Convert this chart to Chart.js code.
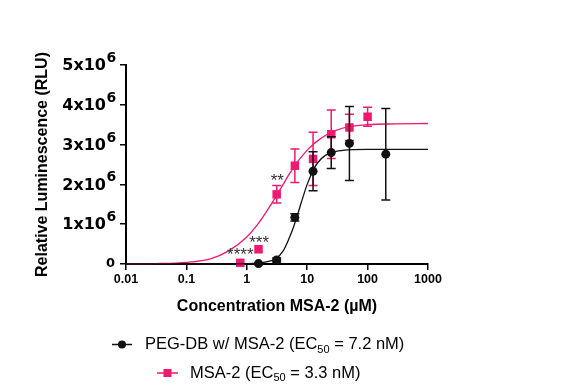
<!DOCTYPE html>
<html>
<head>
<meta charset="utf-8">
<script src="https://cdn.jsdelivr.net/npm/chart.js@4/dist/chart.umd.min.js"></script>
<style>
  html, body { margin: 0; padding: 0; background: #fff; }
</style>
</head>
<body>
<canvas id="chart" width="582" height="392"></canvas>
<script>
// measured points (concentration in µM, RLU)
const pegConc = [1.5625, 3.125, 6.25, 12.5, 25, 50, 200];
const pegMean = [0.01e6, 0.10e6, 1.17e6, 2.33e6, 2.80e6, 3.03e6, 2.76e6];
const pegErr  = [0.02e6, 0.05e6, 0.09e6, 0.49e6, 0.40e6, 0.93e6, 1.15e6];

const msaConc = [0.78, 1.5625, 3.125, 6.25, 12.5, 25, 50, 100];
const msaMean = [0.03e6, 0.37e6, 1.75e6, 2.47e6, 2.64e6, 3.26e6, 3.43e6, 3.70e6];
const msaErr  = [0, 0, 0.22e6, 0.42e6, 0.67e6, 0.61e6, 0.33e6, 0.24e6];

// fitted curves
const fitConc = [0.01, 0.03, 0.1, 0.25, 0.5, 1, 1.5, 2, 3, 4, 5, 6, 7, 8, 10, 12.5, 15, 20, 30, 50, 100, 300, 1000];
const pegFit = [0, 0, 0, 0, 0.001e6, 0.007e6, 0.022e6, 0.05e6, 0.13e6, 0.33e6, 0.64e6, 0.95e6, 1.26e6, 1.55e6,
                2.0e6, 2.35e6, 2.55e6, 2.73e6, 2.83e6, 2.87e6, 2.88e6, 2.88e6, 2.88e6];
const msaFit = [0.003e6, 0.01e6, 0.04e6, 0.13e6, 0.33e6, 0.68e6, 0.99e6, 1.26e6, 1.68e6, 2.0e6, 2.25e6, 2.43e6,
                2.58e6, 2.69e6, 2.86e6, 3.0e6, 3.1e6, 3.23e6, 3.36e6, 3.45e6, 3.50e6, 3.52e6, 3.53e6];

// significance marks
const sigText = ['****', '***', '**'];
const sigX = [0.78, 1.6, 3.2];
const sigY = [0.31e6, 0.62e6, 2.17e6];

// axes
const xTickValues = [0.01, 0.1, 1, 10, 100, 1000];
const xTickLabels = ['0.01', '0.1', '1', '10', '100', '1000'];
const yTickValues = [0, 1e6, 2e6, 3e6, 4e6, 5e6];
const yTickLabels = ['0', '1x10', '2x10', '3x10', '4x10', '5x10'];
const yTickExp    = ['', '6', '6', '6', '6', '6'];

// legend
const legendNames = ['PEG-DB w/ MSA-2', 'MSA-2'];
const legendEC50 = ['7.2', '3.3'];

const black = '#111111';
const pink = '#F0186F';

const pts = (xs, ys) => xs.map((x, i) => ({ x: x, y: ys[i] }));

const errorBars = {
  id: 'errorBars',
  beforeDatasetDraw(chart, args) {
    const ds = chart.data.datasets[args.index];
    if (!ds.errors) return;
    const xs = chart.scales.x, ys = chart.scales.y;
    const ctx = chart.ctx;
    ctx.save();
    ctx.strokeStyle = ds.borderColor;
    ctx.lineWidth = 1.5;
    ds.data.forEach((p, i) => {
      const e = ds.errors[i];
      if (!e) return;
      const px = xs.getPixelForValue(p.x);
      const top = ys.getPixelForValue(p.y + e);
      const bot = ys.getPixelForValue(p.y - e);
      ctx.beginPath();
      ctx.moveTo(px, top); ctx.lineTo(px, bot);
      ctx.moveTo(px - 4.5, top); ctx.lineTo(px + 4.5, top);
      ctx.moveTo(px - 4.5, bot); ctx.lineTo(px + 4.5, bot);
      ctx.stroke();
    });
    ctx.restore();
  }
};

const extras = {
  id: 'extras',
  afterDraw(chart) {
    const ctx = chart.ctx;
    const xs = chart.scales.x, ys = chart.scales.y;
    ctx.save();
    // y tick labels with exponent
    ctx.fillStyle = '#000';
    yTickValues.forEach((v, i) => {
      const py = ys.getPixelForValue(v);
      ctx.textBaseline = 'middle';
      if (!yTickExp[i]) {
        ctx.font = 'bold 13px "DejaVu Sans"';
        ctx.textAlign = 'right';
        ctx.fillText(yTickLabels[i], 115, py);
        return;
      }
      ctx.font = 'bold 16px "DejaVu Sans"';
      ctx.textAlign = 'right';
      ctx.fillText(yTickLabels[i], 106, py + 1);
      ctx.font = 'bold 14px "DejaVu Sans"';
      ctx.textAlign = 'left';
      ctx.textBaseline = 'alphabetic';
      ctx.fillText(yTickExp[i], 106.5, py - 3);
    });
    // significance stars
    ctx.font = '17px "Liberation Sans"';
    ctx.fillStyle = '#333';
    ctx.textAlign = 'center';
    ctx.textBaseline = 'middle';
    sigText.forEach((t, i) => {
      ctx.fillText(t, xs.getPixelForValue(sigX[i]), ys.getPixelForValue(sigY[i]) + 4);
    });
    // legend
    const rows = [
      { y: 344.5, x0: 112, x1: 132, text: 145, color: black, style: 'circle' },
      { y: 373, x0: 157, x1: 178, text: 190, color: pink, style: 'rect' }
    ];
    rows.forEach((r, i) => {
      ctx.strokeStyle = r.color;
      ctx.fillStyle = r.color;
      ctx.lineWidth = 1.5;
      ctx.beginPath();
      ctx.moveTo(r.x0, r.y); ctx.lineTo(r.x1, r.y);
      ctx.stroke();
      const cx = (r.x0 + r.x1) / 2;
      if (r.style === 'circle') {
        ctx.beginPath(); ctx.arc(cx, r.y, 4, 0, Math.PI * 2); ctx.fill();
      } else {
        ctx.fillRect(cx - 4, r.y - 4, 8, 8);
      }
      ctx.fillStyle = '#000';
      ctx.textAlign = 'left';
      ctx.textBaseline = 'middle';
      ctx.font = '16.5px "Liberation Sans"';
      let x = r.text;
      const a = legendNames[i] + ' (EC';
      ctx.fillText(a, x, r.y);
      x += ctx.measureText(a).width;
      ctx.font = '11px "Liberation Sans"';
      ctx.fillText('50', x, r.y + 5);
      x += ctx.measureText('50').width;
      ctx.font = '16.5px "Liberation Sans"';
      ctx.fillText(' = ' + legendEC50[i] + ' nM)', x, r.y);
    });
    ctx.restore();
  }
};

new Chart(document.getElementById('chart'), {
  type: 'scatter',
  data: {
    datasets: [
      {
        label: 'PEG-DB w/ MSA-2',
        data: pts(pegConc, pegMean),
        errors: pegErr,
        backgroundColor: black,
        borderColor: black,
        pointStyle: 'circle',
        pointRadius: 4.5,
        pointBorderWidth: 0,
        showLine: false,
        clip: false,
        order: 1
      },
      {
        label: 'PEG-DB fit',
        data: pts(fitConc, pegFit),
        borderColor: black,
        borderWidth: 1.3,
        pointRadius: 0,
        showLine: true,
        cubicInterpolationMode: 'monotone',
        clip: false,
        order: 2
      },
      {
        label: 'MSA-2',
        data: pts(msaConc, msaMean),
        errors: msaErr,
        backgroundColor: pink,
        borderColor: pink,
        pointStyle: 'rect',
        pointRadius: 6,
        pointBorderWidth: 0,
        showLine: false,
        clip: false,
        order: 3
      },
      {
        label: 'MSA-2 fit',
        data: pts(fitConc, msaFit),
        borderColor: pink,
        borderWidth: 1.3,
        pointRadius: 0,
        showLine: true,
        cubicInterpolationMode: 'monotone',
        clip: false,
        order: 4
      }
    ]
  },
  options: {
    responsive: false,
    animation: false,
    devicePixelRatio: 1,
    layout: { padding: { left: 30, top: 65, right: 154, bottom: 76 } },
    plugins: { legend: { display: false }, tooltip: { enabled: false } },
    scales: {
      x: {
        type: 'logarithmic',
        min: 0.01,
        max: 1000,
        afterBuildTicks: s => { s.ticks = xTickValues.map(v => ({ value: v })); },
        afterFit: s => { s.height = 52; },
        ticks: {
          callback: (v, i) => xTickLabels[i],
          color: '#000',
          padding: 2,
          maxRotation: 0,
          font: { family: 'Liberation Sans', weight: 'bold', size: 12.5 }
        },
        grid: { drawOnChartArea: false, drawTicks: true, tickLength: 6, color: '#000', lineWidth: 1.5 },
        border: { color: '#000', width: 2 },
        title: {
          display: true,
          text: 'Concentration MSA-2 (µM)',
          color: '#000',
          padding: { top: 0, bottom: 0 },
          font: { family: 'Liberation Sans', weight: 'bold', size: 16 }
        }
      },
      y: {
        min: 0,
        max: 5e6,
        afterBuildTicks: s => { s.ticks = yTickValues.map(v => ({ value: v })); },
        afterFit: s => { s.width = 96; },
        ticks: { display: false },
        grid: { drawOnChartArea: false, drawTicks: true, tickLength: 6, color: '#000', lineWidth: 1.5 },
        border: { color: '#000', width: 2 },
        title: {
          display: true,
          text: 'Relative Luminescence (RLU)',
          color: '#000',
          padding: { top: 3, bottom: 0 },
          font: { family: 'Liberation Sans', weight: 'bold', size: 16 }
        }
      }
    }
  },
  plugins: [errorBars, extras]
});
</script>
</body>
</html>
